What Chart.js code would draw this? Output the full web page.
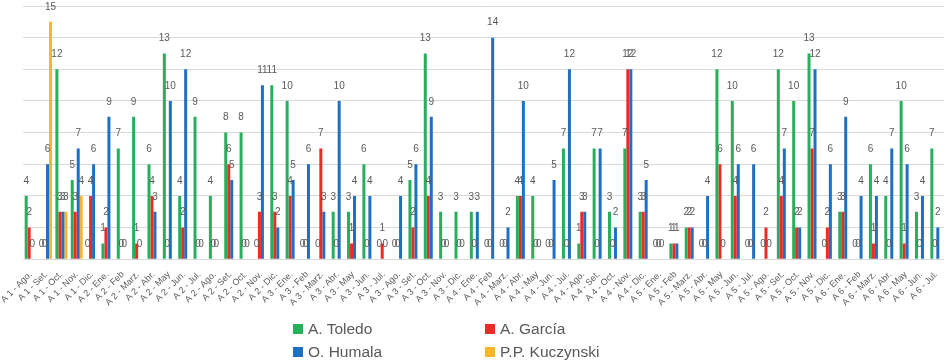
<!DOCTYPE html>
<html>
<head>
<meta charset="utf-8">
<script src="https://cdn.jsdelivr.net/npm/chart.js@4/dist/chart.umd.min.js"></script>
<style>
  html, body { margin: 0; padding: 0; background: #ffffff; }
  #wrap { position: relative; width: 946px; height: 364px; }
  #chartBox { position: absolute; left: 0; top: 0; width: 946px; height: 310px; }
  #legend {
    position: absolute; left: 0; top: 0; width: 946px; height: 364px; pointer-events: none;
    font-family: "Liberation Sans", Arial, sans-serif; font-size: 15.5px; color: #595959;
  }
  .item { position: absolute; display: flex; align-items: center; white-space: nowrap; height: 20px; }
  .swatch { width: 10px; height: 10px; margin-right: 5px; }
</style>
</head>
<body>
<div id="wrap">
  <div id="chartBox"><canvas id="c"></canvas></div>
  <div id="legend"></div>
</div>
<script>
// Months counted from the start of each term (A = año de gobierno)
const categories = [
  "A 1 - Ago.", "A 1 - Set.", "A 1 - Oct.", "A 1 - Nov.", "A 1 - Dic.",
  "A 2 - Ene.", "A 2 - Feb", "A 2 - Marz.", "A 2 - Abr.", "A 2 - May", "A 2 - Jun.", "A 2 - Jul.",
  "A 2 - Ago.", "A 2 - Set.", "A 2 - Oct.", "A 2 - Nov.", "A 2 - Dic.",
  "A 3 - Ene.", "A 3 - Feb", "A 3 - Marz.", "A 3 - Abr.", "A 3 - May", "A 3 - Jun.", "A 3 - Jul.",
  "A 3 - Ago.", "A 3 - Set.", "A 3 - Oct.", "A 3 - Nov.", "A 3 - Dic.",
  "A 4 - Ene.", "A 4 - Feb", "A 4 - Marz.", "A 4 - Abr.", "A 4 - May", "A 4 - Jun.", "A 4 - Jul.",
  "A 4 - Ago.", "A 4 - Set.", "A 4 - Oct.", "A 4 - Nov.", "A 4 - Dic.",
  "A 5 - Ene.", "A 5 - Feb", "A 5 - Marz.", "A 5 - Abr.", "A 5 - May", "A 5 - Jun.", "A 5 - Jul.",
  "A 5 - Ago.", "A 5 - Set.", "A 5 - Oct.", "A 5 - Nov.", "A 5 - Dic.",
  "A 6 - Ene.", "A 6 - Feb", "A 6 - Marz.", "A 6 - Abr.", "A 6 - May", "A 6 - Jun.", "A 6 - Jul."
];

const toledo = [
  4, 0, 12, 5, 0,
  1, 7, 9, 6, 13, 4, 9, 4, 8, 8, 0, 11,
  10, 0, 0, 3, 3, 6, 0, 0, 5, 13, 3, 3,
  3, 0, 0, 4, 4, 0, 7, 1, 7, 3, 7, 3,
  0, 1, 2, 0, 12, 10, 0, 0, 12, 10, 13, 0,
  3, 0, 6, 4, 10, 3, 7
];

const garcia = [
  2, 0, 3, 3, 4,
  2, 0, 1, 4, 0, 2, 0, 0, 6, 0, 3, 3,
  4, 0, 7, 0, 1, 0, 1, 0, 2, 4, 0, 0,
  0, 0, 0, 4, 0, 0, 0, 3, 0, 0, 12, 3,
  0, 1, 2, 0, 6, 4, 0, 2, 4, 2, 7, 2,
  3, 0, 1, 0, 1, 0, 0
];

const humala = [
  0, 6, 3, 7, 6,
  9, 0, 0, 3, 10, 12, 0, 0, 5, 0, 11, 2,
  5, 6, 3, 10, 4, 4, 0, 4, 6, 9, 0, 0,
  3, 14, 2, 10, 0, 5, 12, 3, 7, 2, 12, 5,
  0, 1, 2, 4, 0, 6, 6, 0, 7, 2, 12, 6,
  9, 4, 4, 7, 6, 4, 2
];

const kuczynski = [
  null, 15, 3, 4, null,
  null, null, null, null, null, null, null, null, null, null, null, null,
  null, null, null, null, null, null, null, null, null, null, null, null,
  null, null, null, null, null, null, null, null, null, null, null, null,
  null, null, null, null, null, null, null, null, null, null, null, null,
  null, null, null, null, null, null, null
];

const seriesNames = ["A. Toledo", "A. García", "O. Humala", "P.P. Kuczynski"];
const seriesColors = ["#27b05c", "#ec2b26", "#1f6fc2", "#fbb52a"];
const seriesValues = [toledo, garcia, humala, kuczynski];

const TEXT_GRAY = "#595959";
const FONT = '"Liberation Sans", Arial, sans-serif';

// Value printed above every bar that has data
const barValueLabels = {
  id: "barValueLabels",
  afterDatasetsDraw(chart) {
    const ctx = chart.ctx;
    ctx.save();
    ctx.font = "10px " + FONT;
    ctx.fillStyle = TEXT_GRAY;
    ctx.textAlign = "center";
    ctx.textBaseline = "middle";
    chart.data.datasets.forEach((ds, i) => {
      const meta = chart.getDatasetMeta(i);
      meta.data.forEach((bar, j) => {
        const v = ds.data[j];
        if (v === null || v === undefined) return;
        ctx.fillText(String(v), bar.x, bar.y - 15);
      });
    });
    ctx.restore();
  }
};

const chart = new Chart(document.getElementById("c"), {
  type: "bar",
  data: {
    labels: categories,
    datasets: seriesNames.map((name, i) => ({
      label: name,
      data: seriesValues[i],
      backgroundColor: seriesColors[i],
      borderWidth: 0,
      categoryPercentage: 0.78,
      barPercentage: 1.0
    }))
  },
  options: {
    responsive: true,
    maintainAspectRatio: false,
    animation: false,
    layout: { padding: { left: 23, right: 2, top: 6, bottom: 0 } },
    plugins: {
      legend: { display: false },
      tooltip: { enabled: false }
    },
    scales: {
      x: {
        grid: { display: false },
        border: { display: false },
        ticks: {
          autoSkip: false,
          minRotation: 45,
          maxRotation: 45,
          padding: 2,
          color: TEXT_GRAY,
          font: { family: FONT, size: 9 }
        }
      },
      y: {
        min: 0,
        max: 16,
        border: { display: false },
        grid: { color: "#d9d9d9", lineWidth: 1, drawTicks: false },
        ticks: { display: false, stepSize: 2 }
      }
    }
  },
  plugins: [barValueLabels]
});

// Two-column legend under the plot
const legendPos = [
  { left: 293, top: 319 },
  { left: 485, top: 319 },
  { left: 293, top: 342 },
  { left: 485, top: 342 }
];
const legendEl = document.getElementById("legend");
chart.data.datasets.forEach((ds, i) => {
  const item = document.createElement("div");
  item.className = "item";
  item.style.left = legendPos[i].left + "px";
  item.style.top = legendPos[i].top + "px";
  const sw = document.createElement("span");
  sw.className = "swatch";
  sw.style.background = ds.backgroundColor;
  const tx = document.createElement("span");
  tx.textContent = ds.label;
  item.appendChild(sw);
  item.appendChild(tx);
  legendEl.appendChild(item);
});
</script>
</body>
</html>
